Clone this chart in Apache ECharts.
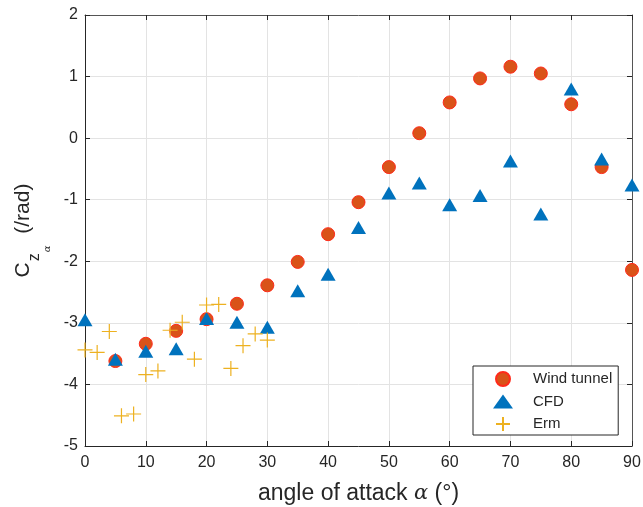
<!DOCTYPE html>
<html>
<head>
<meta charset="utf-8">
<script src="https://cdn.jsdelivr.net/npm/echarts@6/dist/echarts.min.js"></script>
<style>
  html, body { margin: 0; padding: 0; background: #fff; }
  #chart { width: 643px; height: 507px; }
</style>
</head>
<body>
<div id="chart"></div>
<script>
// Angle of attack (deg) and C_z_alpha (/rad) for each data source
const windAlpha = [5, 10, 15, 20, 25, 30, 35, 40, 45, 50, 55, 60, 65, 70, 75, 80, 85, 90];
const windCz = [-3.62, -3.34, -3.13, -2.94, -2.69, -2.39, -2.01, -1.56, -1.04, -0.47, 0.08, 0.58, 0.97, 1.16, 1.05, 0.55, -0.47, -2.14];

const cfdAlpha = [0, 5, 10, 15, 20, 25, 30, 35, 40, 45, 50, 55, 60, 65, 70, 75, 80, 85, 90];
const cfdCz = [-2.95, -3.59, -3.46, -3.42, -2.93, -2.99, -3.07, -2.48, -2.21, -1.45, -0.89, -0.73, -1.08, -0.93, -0.37, -1.23, 0.80, -0.34, -0.76];

const ermAlpha = [0, 2, 4, 6, 8, 10, 12, 14, 16, 18, 20, 22, 24, 26, 28, 30];
const ermCz = [-3.44, -3.48, -3.14, -4.51, -4.48, -3.84, -3.78, -3.12, -2.99, -3.59, -2.71, -2.70, -3.74, -3.37, -3.18, -3.28];

const xTicks = [0, 10, 20, 30, 40, 50, 60, 70, 80, 90];
const yTicks = [-5, -4, -3, -2, -1, 0, 1, 2];

const pairs = (xs, ys) => xs.map((x, i) => [x, ys[i]]);

const FONT = 'Liberation Sans';
const INK = '#262626';
const PLUS = 'path://M0,-10L0,10M-10,0L10,0';

const chart = echarts.init(document.getElementById('chart'), null, { renderer: 'canvas' });

const baseX = {
  type: 'value',
  min: xTicks[0],
  max: xTicks[xTicks.length - 1],
  interval: 10,
};
const baseY = {
  type: 'value',
  min: yTicks[0],
  max: yTicks[yTicks.length - 1],
  interval: 1,
};

chart.setOption({
  animation: false,
  backgroundColor: '#ffffff',
  grid: { left: 85, right: 11, top: 15, bottom: 61, containLabel: false, outerBoundsMode: 'none' },
  xAxis: [
    Object.assign({}, baseX, {
      position: 'bottom',
      name: '{t|angle of attack }{g|α}{t| (°)}',
      nameLocation: 'middle',
      nameGap: 36,
      nameTextStyle: {
        rich: {
          t: { fontFamily: FONT, fontSize: 23, color: INK },
          g: { fontFamily: 'DejaVu Serif', fontStyle: 'italic', fontSize: 21, color: INK }
        }
      },
      axisLine: { show: true, onZero: false, lineStyle: { color: INK, width: 1 } },
      axisTick: { show: true, inside: true, length: 5, lineStyle: { color: INK } },
      axisLabel: { fontFamily: FONT, fontSize: 16, color: INK, margin: 9 },
      splitLine: { show: true, lineStyle: { color: '#e3e3e3', width: 1 } }
    }),
    Object.assign({}, baseX, {
      position: 'top',
      axisLine: { show: true, onZero: false, lineStyle: { color: '#555555', width: 1 } },
      axisTick: { show: true, inside: true, length: 5, lineStyle: { color: INK } },
      axisLabel: { show: false },
      splitLine: { show: false }
    })
  ],
  yAxis: [
    Object.assign({}, baseY, {
      position: 'left',
      name: '{c|C}{z|z}{a|α}{r|  (/rad)}',
      nameLocation: 'middle',
      nameRotate: 90,
      nameGap: 40,
      nameTextStyle: {
        rich: {
          c: { fontFamily: FONT, fontSize: 21, color: INK, verticalAlign: 'top', lineHeight: 26 },
          z: { fontFamily: FONT, fontSize: 16, color: INK, verticalAlign: 'top', lineHeight: 16, padding: [14, 0, 0, 1] },
          a: { fontFamily: 'DejaVu Serif', fontStyle: 'italic', fontSize: 10, color: INK, verticalAlign: 'top', lineHeight: 10, padding: [30, 0, 0, 1] },
          r: { fontFamily: FONT, fontSize: 21, color: INK, verticalAlign: 'top', lineHeight: 26 }
        }
      },
      axisLine: { show: true, onZero: false, lineStyle: { color: INK, width: 1 } },
      axisTick: { show: true, inside: true, length: 5, lineStyle: { color: INK } },
      axisLabel: { fontFamily: FONT, fontSize: 16, color: INK, margin: 7 },
      splitLine: { show: true, lineStyle: { color: '#e3e3e3', width: 1 } }
    }),
    Object.assign({}, baseY, {
      position: 'right',
      axisLine: { show: true, onZero: false, lineStyle: { color: '#555555', width: 1 } },
      axisTick: { show: true, inside: true, length: 5, lineStyle: { color: INK } },
      axisLabel: { show: false },
      splitLine: { show: false }
    })
  ],
  legend: {
    orient: 'vertical',
    left: 473,
    top: 366,
    padding: [5, 6, 3, 20],
    itemWidth: 20,
    itemHeight: 14,
    itemGap: 7,
    backgroundColor: '#ffffff',
    borderColor: INK,
    borderWidth: 1,
    borderRadius: 0,
    textStyle: { fontFamily: FONT, fontSize: 15, color: INK, padding: [0, 0, 0, 15] },
    data: ['Wind tunnel', 'CFD', 'Erm']
  },
  series: [
    {
      name: 'Wind tunnel',
      type: 'scatter',
      clip: false,
      symbol: 'circle',
      symbolSize: 13,
      itemStyle: { color: '#D95319', borderColor: '#FF2A1A', borderWidth: 1, opacity: 1 },
      data: pairs(windAlpha, windCz),
      z: 3
    },
    {
      name: 'CFD',
      type: 'scatter',
      clip: false,
      symbol: 'triangle',
      symbolSize: [15, 13],
      itemStyle: { color: '#0072BD', borderColor: '#0072BD', borderWidth: 0, opacity: 1 },
      data: pairs(cfdAlpha, cfdCz),
      z: 4
    },
    {
      name: 'Erm',
      type: 'scatter',
      clip: false,
      symbol: PLUS,
      symbolSize: 15,
      itemStyle: { color: 'rgba(0,0,0,0)', borderColor: '#EDB120', borderWidth: 1.2, opacity: 1 },
      data: pairs(ermAlpha, ermCz),
      z: 5
    }
  ]
});
</script>
</body>
</html>
